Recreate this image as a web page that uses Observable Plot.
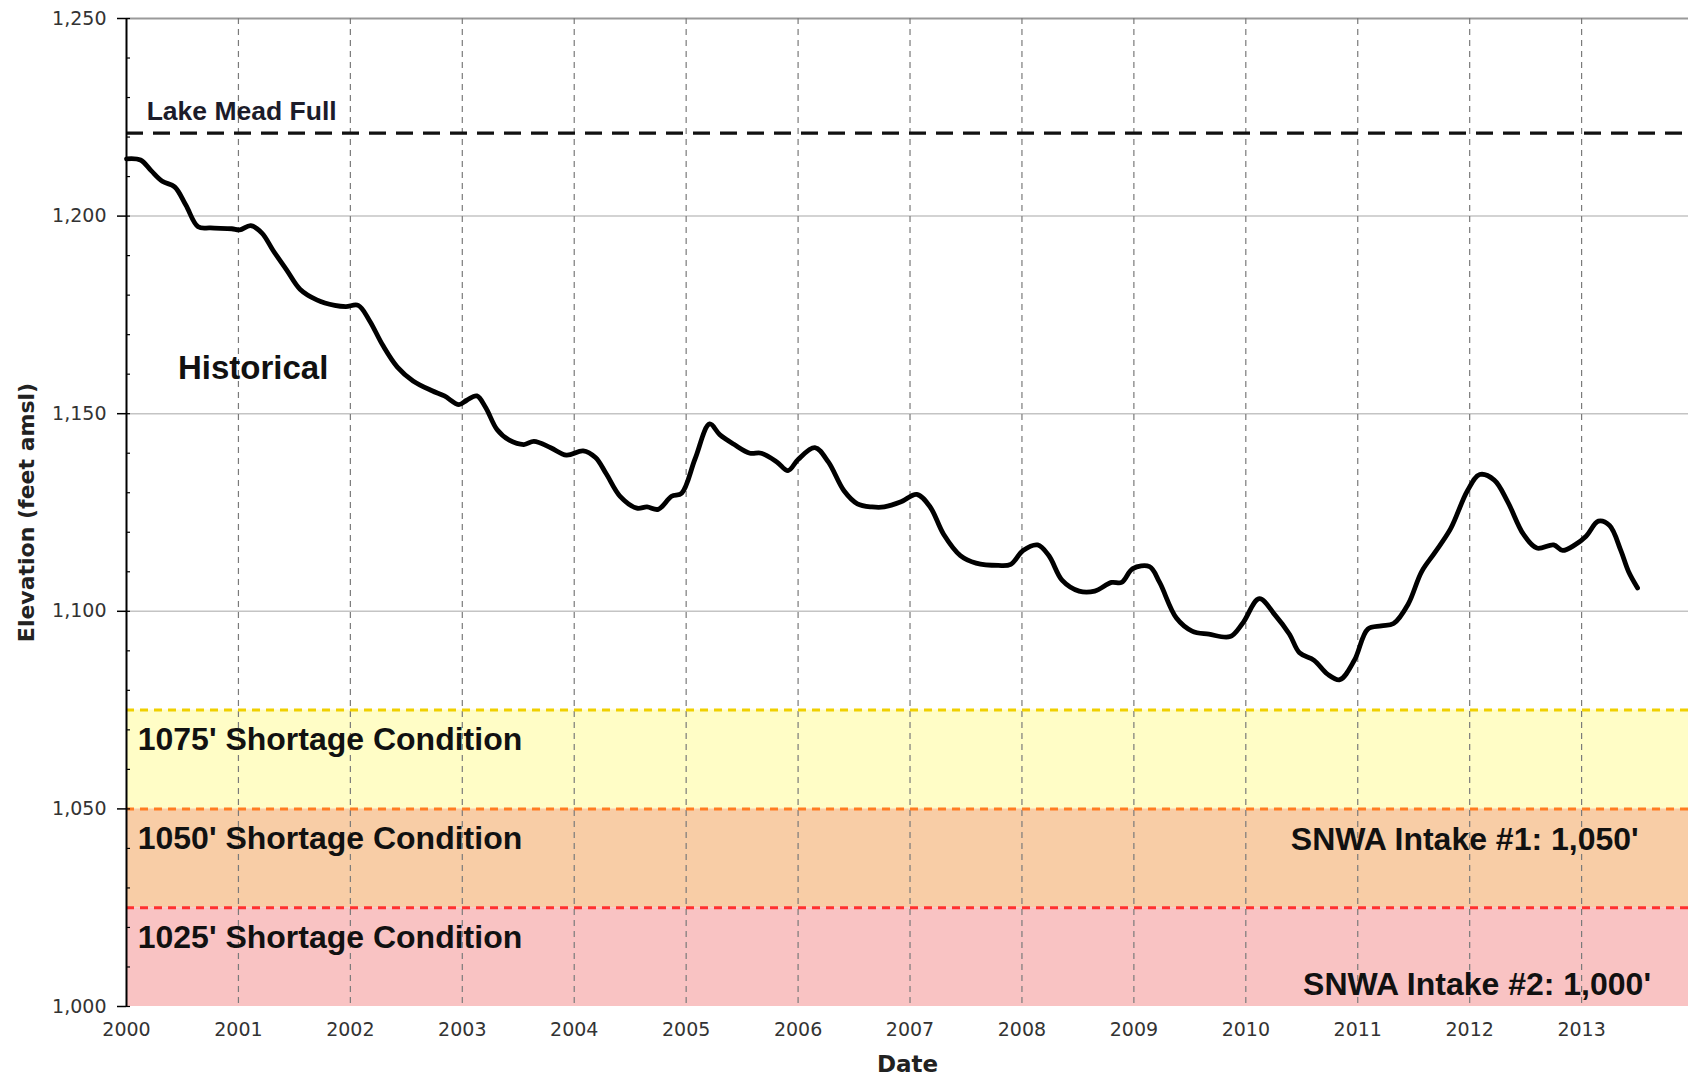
<!DOCTYPE html>
<html><head><meta charset="utf-8">
<script src="https://cdn.jsdelivr.net/npm/d3@7"></script>
<script src="https://cdn.jsdelivr.net/npm/@observablehq/plot@0.6"></script>
<style>body{margin:0;background:#fff}</style>
</head><body><div id="chart"></div>
<script>
// Historical Lake Mead elevation (decimal year, feet amsl)
const years = [2000.00,2000.125,2000.22,2000.32,2000.43,2000.53,2000.64,2000.75,2000.94,2001.01,2001.11,2001.21,2001.31,2001.43,2001.55,2001.70,2001.86,2001.96,2002.07,2002.17,2002.29,2002.42,2002.56,2002.73,2002.84,2002.97,2003.04,2003.13,2003.21,2003.31,2003.42,2003.55,2003.64,2003.79,2003.93,2004.08,2004.19,2004.29,2004.41,2004.56,2004.65,2004.75,2004.87,2004.96,2005.08,2005.21,2005.30,2005.43,2005.57,2005.67,2005.81,2005.91,2006.00,2006.15,2006.27,2006.41,2006.53,2006.66,2006.77,2006.92,2007.06,2007.18,2007.30,2007.45,2007.59,2007.79,2007.90,2008.01,2008.14,2008.24,2008.36,2008.51,2008.65,2008.80,2008.89,2008.99,2009.14,2009.23,2009.38,2009.52,2009.67,2009.86,2009.97,2010.12,2010.26,2010.39,2010.48,2010.61,2010.73,2010.84,2010.97,2011.09,2011.21,2011.32,2011.45,2011.57,2011.69,2011.83,2011.98,2012.09,2012.22,2012.34,2012.48,2012.60,2012.75,2012.83,2012.94,2013.04,2013.15,2013.25,2013.35,2013.42,2013.50];
const elevation = [1214.5,1214.2,1211.5,1208.8,1207.4,1202.8,1197.3,1197.0,1196.8,1196.5,1197.6,1195.7,1191.3,1186.4,1181.5,1178.8,1177.4,1177.1,1177.4,1173.6,1167.3,1161.8,1158.3,1155.8,1154.5,1152.3,1153.4,1154.5,1151.5,1146.0,1143.3,1142.2,1143.0,1141.4,1139.5,1140.6,1138.9,1134.6,1129.1,1126.1,1126.4,1125.8,1129.1,1129.9,1138.6,1147.4,1144.7,1142.2,1140.0,1140.0,1137.8,1135.6,1138.4,1141.4,1137.8,1130.5,1127.2,1126.4,1126.4,1127.7,1129.6,1126.4,1119.5,1114.1,1112.2,1111.6,1111.9,1115.4,1116.8,1114.1,1107.8,1105.1,1105.1,1107.3,1107.3,1110.8,1111.3,1107.3,1098.3,1095.0,1094.2,1093.6,1096.9,1103.2,1099.1,1094.2,1089.5,1087.6,1084.1,1082.7,1087.6,1095.5,1096.3,1096.9,1101.8,1110.0,1114.9,1120.9,1130.5,1134.6,1133.2,1127.7,1119.5,1116.0,1116.8,1115.4,1116.8,1119.0,1122.8,1121.7,1115.4,1110.0,1105.9];

const yearTicks = [2000,2001,2002,2003,2004,2005,2006,2007,2008,2009,2010,2011,2012,2013];
const gridYears = [2001,2002,2003,2004,2005,2006,2007,2008,2009,2010,2011,2012,2013];
const elevTicks = [1000,1050,1100,1150,1200,1250];
const gridElev = [1100,1150,1200];
const minorElev = d3.range(1000, 1251, 10);
const lakeMeadFull = 1221;
const shortageLevels = [1075, 1050, 1025];
const bandBottoms = [1050, 1025, 1000];
const bandLabels = ["1075' Shortage Condition", "1050' Shortage Condition", "1025' Shortage Condition"];
const intakeLabels = ["SNWA Intake #1: 1,050'", "SNWA Intake #2: 1,000'"];
const intakeElev = [1050, 1000];

const bandFill = ["#fffdc6", "#f8cda6", "#f9c3c3"];
const bandLine = ["#f0d000", "#ff7c22", "#ff3030"];
const xEnd = 2013.955;

const W = 1690, ML = 126, MR = 2;
const bands = shortageLevels.map((hi, i) => ({hi, lo: bandBottoms[i], label: bandLabels[i], fill: bandFill[i], line: bandLine[i]}));
const fmt = d3.format(",");

const chart = Plot.plot({
  width: W,
  height: 1077,
  marginLeft: ML,
  marginRight: MR,
  marginTop: 18,
  marginBottom: 71,
  style: {fontFamily: "DejaVu Sans", background: "#fff"},
  x: {domain: [2000, xEnd]},
  y: {domain: [1000, 1250]},
  marks: [
    ...bands.map(b => Plot.rectY([b], {x1: 2000, x2: xEnd, y1: "lo", y2: "hi", fill: b.fill})),
    Plot.ruleY(gridElev, {stroke: "#c4c4c4", strokeWidth: 1.5}),
    Plot.ruleY([1250], {stroke: "#9a9a9a", strokeWidth: 2}),
    Plot.ruleX(gridYears, {stroke: "#7a7a7a", strokeWidth: 1.2, strokeDasharray: "6,5"}),
    ...bands.map(b => Plot.ruleY([b.hi], {x1: 2000, x2: xEnd, stroke: b.line, strokeWidth: 3, strokeDasharray: "8,6"})),
    Plot.ruleY([lakeMeadFull], {x1: 2000, x2: xEnd, stroke: "#111", strokeWidth: 3.2, strokeDasharray: "17,10"}),
    Plot.ruleX([2000], {stroke: "#000", strokeWidth: 2}),
    Plot.tickY(minorElev, {y: d => d, insetRight: W - ML - MR - 4, stroke: "#000", strokeWidth: 1.2}),
    Plot.axisY({ticks: elevTicks, tickFormat: d => fmt(d), tickSize: 9, tickPadding: 11, fontSize: 19, fill: "#333", stroke: "#000", strokeWidth: 1.5, label: null}),
    Plot.axisX({ticks: yearTicks, tickFormat: d => String(d), tickSize: 0, tickPadding: 16, fontSize: 19, fill: "#333", label: null}),
    Plot.line(elevation, {x: years, y: elevation, stroke: "#000", strokeWidth: 4.8, curve: "catmull-rom", strokeLinejoin: "round", strokeLinecap: "round"}),
    Plot.text(bands, {x: 2000.1, y: b => b.hi - 7.5, text: "label", textAnchor: "start", fontFamily: "Liberation Sans", fontWeight: "bold", fontSize: 32, fill: "#111"}),
    Plot.text([intakeLabels[0]], {x: 2013.51, y: intakeElev[0] - 7.7, textAnchor: "end", fontFamily: "Liberation Sans", fontWeight: "bold", fontSize: 32, fill: "#111"}),
    Plot.text([intakeLabels[1]], {x: 2013.62, y: intakeElev[1] + 5.5, textAnchor: "end", fontFamily: "Liberation Sans", fontWeight: "bold", fontSize: 32, fill: "#111"}),
    Plot.text(["Lake Mead Full"], {x: 2000.18, y: lakeMeadFull + 5.5, textAnchor: "start", fontFamily: "Liberation Sans", fontWeight: "bold", fontSize: 26.5, fill: "#1c1c2a"}),
    Plot.text(["Historical"], {x: 2000.46, y: 1161.5, textAnchor: "start", fontFamily: "Liberation Sans", fontWeight: "bold", fontSize: 33, fill: "#111"}),
    Plot.text(["Date"], {frameAnchor: "bottom", dy: 58, lineAnchor: "middle", textAnchor: "middle", fontFamily: "DejaVu Sans", fontWeight: "bold", fontSize: 23, fill: "#222"}),
    Plot.text(["Elevation (feet amsl)"], {frameAnchor: "left", dx: -100, rotate: -90, textAnchor: "middle", lineAnchor: "middle", fontFamily: "DejaVu Sans", fontWeight: "bold", fontSize: 22, fill: "#222"})
  ]
});
document.getElementById("chart").appendChild(chart);
</script>
</body></html>
